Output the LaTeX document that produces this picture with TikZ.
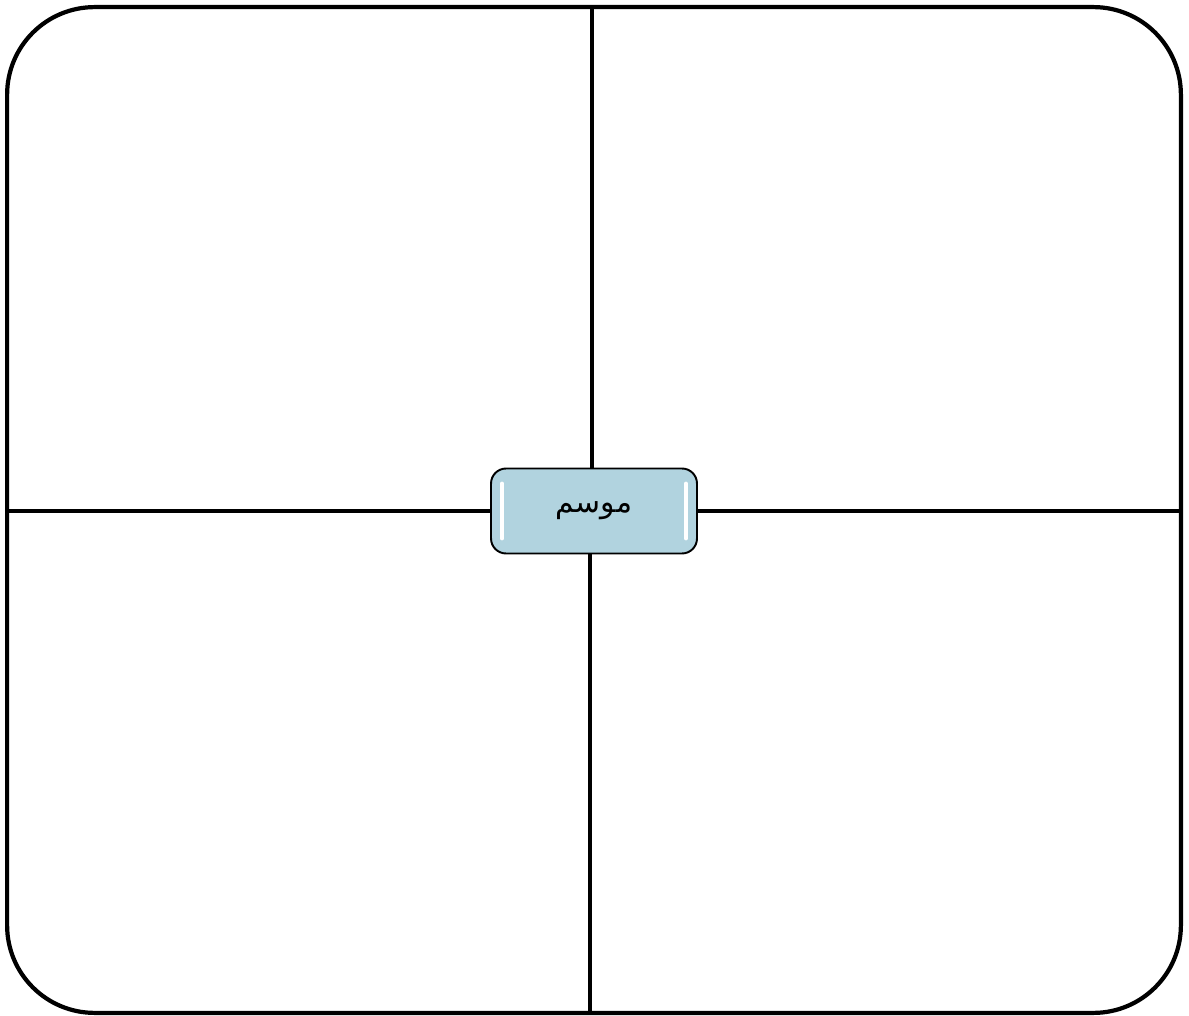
\documentclass[tikz,border=0pt]{standalone}
\usepackage{fontspec}
\newfontfamily\arabicfont[Script=Arabic]{DejaVu Sans}
\TeXXeTstate=1
\usepackage{tikz}
\usetikzlibrary{calc}
\definecolor{capblue}{HTML}{B1D3DF}
\tikzset{
  framebox/.style ={draw,line width=2.4pt,rounded corners=1.75cm,
                    minimum width=23.48cm,minimum height=20.12cm,inner sep=0pt},
  capbox/.style   ={draw,line width=1.1pt,fill=capblue,rounded corners=0.3cm,
                    minimum width=4.12cm,minimum height=1.7cm,inner sep=0pt,
                    font=\arabicfont\fontsize{17}{20}\selectfont},
  divider/.style  ={line width=2pt},
  gleam/.style    ={white,line width=2.2pt,line cap=round},
}

\begin{document}
\begin{tikzpicture}[x=0.02cm,y=0.02cm]
\useasboundingbox (0,0) rectangle (1189,1015);

% --- outer frame -----------------------------------------------------------
\node[framebox] (frame) at (594,505) {};

% --- centre label ----------------------------------------------------------
\node[capbox] (cap) at (594,504) {\beginR موسم\endR};
\draw[gleam] ($(cap.south west)+(12,16)$) -- ($(cap.north west)+(12,-16)$);
\draw[gleam] ($(cap.south east)+(-12,16)$) -- ($(cap.north east)+(-12,-16)$);

% --- dividers --------------------------------------------------------------
\draw[divider] ([xshift=-1.1pt]cap.north) -- ([xshift=-1.1pt]cap.north |- frame.north);
\draw[divider] ([xshift=-2.2pt]cap.south) -- ([xshift=-2.2pt]cap.south |- frame.south);
\draw[divider] (cap.west) -- (cap.west -| frame.west);
\draw[divider] (cap.east) -- (cap.east -| frame.east);

\end{tikzpicture}
\end{document}
